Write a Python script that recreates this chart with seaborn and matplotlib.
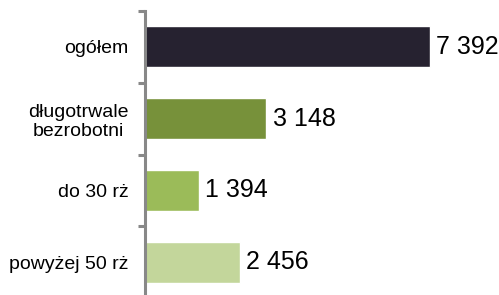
import matplotlib
matplotlib.use("Agg")
import matplotlib.pyplot as plt
import seaborn as sns
import pandas as pd

categories = ["ogółem", "długotrwale\nbezrobotni", "do 30 rż", "powyżej 50 rż"]
values = [7392, 3148, 1394, 2456]
value_labels = ["7 392", "3 148", "1 394", "2 456"]
colors = ["#262230", "#77913A", "#9BBB59", "#C3D69B"]

sns.set_theme(style="white")
plt.rcParams["font.family"] = ["Liberation Sans", "DejaVu Sans"]

W, H = 499, 295
fig = plt.figure(figsize=(W / 100, H / 100), dpi=100)
ax_left = 145 / W
ax_right = 499 / W
ax_top = 1 - 11 / H
ax_bottom = 1 - 298 / H
ax = fig.add_axes([ax_left, ax_bottom, ax_right - ax_left, ax_top - ax_bottom])

df = pd.DataFrame({"cat": categories, "val": values})
sns.barplot(data=df, x="val", y="cat", hue="cat", palette=colors, legend=False,
            orient="h", width=0.57, ax=ax, saturation=1)

ax.set_xlim(0, 354 / 285 * 7392)
ax.set_ylim(3.5, -0.5)
ax.set_xlabel("")
ax.set_ylabel("")
ax.set_xticks([])

for c in ax.containers:
    idxs = [int(round(p.get_y() + p.get_height() / 2)) for p in c.patches]
    ax.bar_label(c, labels=[value_labels[k] for k in idxs], padding=4.5,
                 fontsize=18, color="#000000")

for s in ["top", "right", "bottom"]:
    ax.spines[s].set_visible(False)
ax.spines["left"].set_color("#888888")
ax.spines["left"].set_linewidth(2.2)

ax.tick_params(axis="y", which="major", left=False, length=0, pad=12,
               labelsize=14, labelcolor="#000000")
ax.set_yticks([-0.5, 0.5, 1.5, 2.5, 3.5], minor=True)
ax.tick_params(axis="y", which="minor", left=True, length=5, width=2.2,
               color="#888888", direction="out")
for lab in ax.get_yticklabels():
    lab.set_horizontalalignment("right")
    lab.set_multialignment("center")

fig.savefig("out.png", dpi=100)
